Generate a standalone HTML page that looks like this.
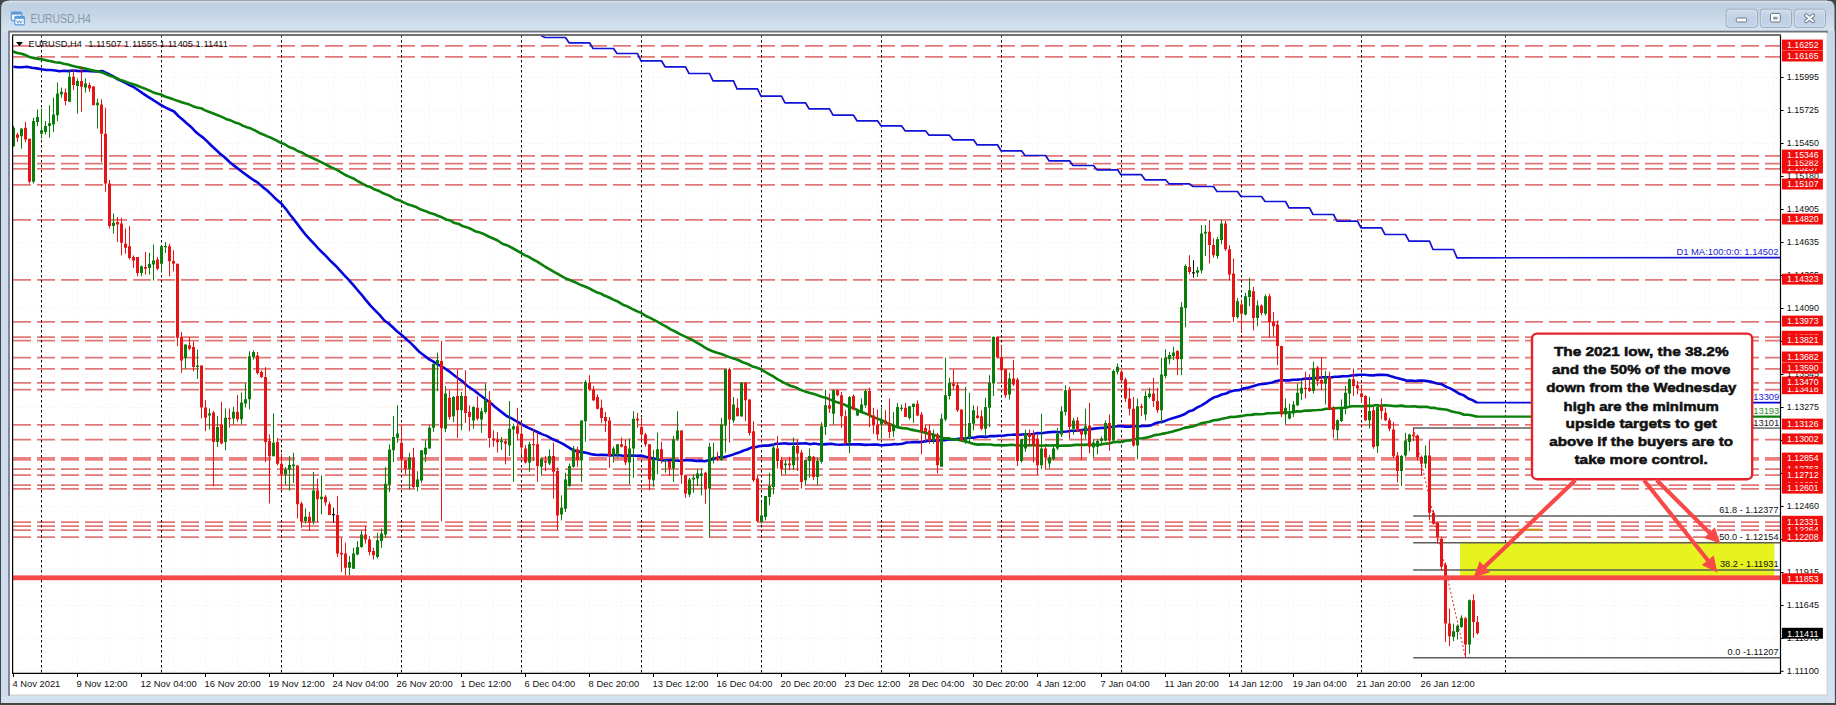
<!DOCTYPE html>
<html><head><meta charset="utf-8"><title>EURUSD,H4</title>
<style>html,body{margin:0;padding:0;background:#fff}body{width:1836px;height:705px;overflow:hidden;position:relative;font-family:"Liberation Sans",sans-serif}</style>
</head><body>
<svg width="1836" height="705" viewBox="0 0 1836 705" style="position:absolute;left:0;top:0;display:block">
<defs>
<linearGradient id="tb" gradientUnits="userSpaceOnUse" x1="0" y1="0.8" x2="0" y2="31">
<stop offset="0" stop-color="#d9e2eb"/><stop offset="0.045" stop-color="#d3dde8"/><stop offset="0.08" stop-color="#bfd0e1"/><stop offset="0.4" stop-color="#c4d4e5"/><stop offset="0.93" stop-color="#d4e2f0"/><stop offset="1" stop-color="#d9e3ee"/>
</linearGradient>
<linearGradient id="btn" x1="0" y1="0" x2="0" y2="1">
<stop offset="0" stop-color="#cfdcea"/><stop offset="0.5" stop-color="#c0d0e4"/><stop offset="1" stop-color="#c6d6ea"/>
</linearGradient>
<linearGradient id="rs" x1="0" y1="0" x2="0" y2="1"><stop offset="0" stop-color="#c8d8ea"/><stop offset="1" stop-color="#d5e2f0"/></linearGradient>
<clipPath id="cc"><rect x="13" y="35" width="1767" height="638"/></clipPath>
</defs>
<rect x="0" y="0" width="1836" height="705" fill="#454545"/>
<rect x="9" y="0" width="1818" height="2" fill="#868e98"/>
<path d="M1.1,702.8 L1.1,8 Q1.1,0.8 8,0.8 L1828,0.8 Q1834.5,0.8 1834.5,8 L1834.5,702.8 Z" fill="url(#tb)"/>
<rect x="1.1" y="31" width="1833.4" height="671.8" fill="#cddcef"/>
<rect x="1.1" y="695.5" width="1833.4" height="7.3" fill="#d3e0ef"/>
<rect x="1827.5" y="31" width="7" height="671.8" fill="url(#rs)"/>
<rect x="8.2" y="30.7" width="1819.6" height="665.1" fill="#70747a"/>
<rect x="9.9" y="32.7" width="1817.9" height="663.1" fill="#e8eaec"/>
<rect x="9.9" y="32.7" width="1816" height="661.2" fill="#ffffff"/>
<g>
<rect x="11.3" y="12" width="10.5" height="8.6" rx="1.4" fill="#f4f8fc" stroke="#5a9ada" stroke-width="1.15"/>
<rect x="11.3" y="12" width="10.5" height="2.6" fill="#5a9ada"/>
<rect x="14.8" y="16.4" width="9.6" height="8.4" rx="1.4" fill="#f4f8fc" stroke="#5a9ada" stroke-width="1.15"/>
<rect x="14.8" y="16.4" width="9.6" height="2.4" fill="#5a9ada"/>
<path d="M16.6,20.6 l1.5,2.6 l1.3,-2.6 l1.4,2.6 l1.4,-2.6" fill="none" stroke="#4d8fd6" stroke-width="0.9"/>
</g>
<text x="30.6" y="23.4" font-family="Liberation Sans, sans-serif" font-size="12.2" fill="#8697a8" textLength="60.2" lengthAdjust="spacingAndGlyphs">EURUSD,H4</text>
<rect x="1726.2" y="9.2" width="31.2" height="18.1" rx="3.2" fill="url(#btn)" stroke="#98a8bb" stroke-width="1"/>
<rect x="1727.2" y="10.2" width="29.2" height="16.1" rx="2.4" fill="none" stroke="#dde7f2" stroke-width="0.8" opacity="0.8"/>
<rect x="1760.3" y="9.2" width="31.2" height="18.1" rx="3.2" fill="url(#btn)" stroke="#98a8bb" stroke-width="1"/>
<rect x="1761.3" y="10.2" width="29.2" height="16.1" rx="2.4" fill="none" stroke="#dde7f2" stroke-width="0.8" opacity="0.8"/>
<rect x="1794.3" y="9.2" width="31.2" height="18.1" rx="3.2" fill="url(#btn)" stroke="#98a8bb" stroke-width="1"/>
<rect x="1795.3" y="10.2" width="29.2" height="16.1" rx="2.4" fill="none" stroke="#dde7f2" stroke-width="0.8" opacity="0.8"/>
<rect x="1736.3" y="18" width="10.4" height="4" rx="1.2" fill="#fbfcfd" stroke="#6b7785" stroke-width="1"/>
<rect x="1770.5" y="13.4" width="9.8" height="8.6" rx="1.2" fill="#fbfcfd" stroke="#6b7785" stroke-width="1"/>
<rect x="1773.2" y="16.8" width="4.4" height="2.6" fill="#8a949f"/>
<path d="M1806.2,15.4 L1813,21.2 M1813,15.4 L1806.2,21.2" stroke="#6b7785" stroke-width="4" stroke-linecap="round"/>
<path d="M1806.2,15.4 L1813,21.2 M1813,15.4 L1806.2,21.2" stroke="#fbfcfd" stroke-width="2.1" stroke-linecap="round"/>
<g clip-path="url(#cc)">
<path d="M45.5,35V673 M77.5,35V673 M109.5,35V673 M141.5,35V673 M173.5,35V673 M205.5,35V673 M237.5,35V673 M269.5,35V673 M301.5,35V673 M333.5,35V673 M365.5,35V673 M397.5,35V673 M429.5,35V673 M461.5,35V673 M493.5,35V673 M525.5,35V673 M557.5,35V673 M589.5,35V673 M621.5,35V673 M653.5,35V673 M685.5,35V673 M717.5,35V673 M749.5,35V673 M781.5,35V673 M813.5,35V673 M845.5,35V673 M877.5,35V673 M909.5,35V673 M941.5,35V673 M973.5,35V673 M1005.5,35V673 M1037.5,35V673 M1069.5,35V673 M1101.5,35V673 M1133.5,35V673 M1165.5,35V673 M1197.5,35V673 M1229.5,35V673 M1261.5,35V673 M1293.5,35V673 M1325.5,35V673 M1357.5,35V673 M1389.5,35V673 M1421.5,35V673 M1453.5,35V673 M1485.5,35V673 M1517.5,35V673 M1549.5,35V673 M1581.5,35V673 M1613.5,35V673 M1645.5,35V673 M1677.5,35V673 M1709.5,35V673 M1741.5,35V673 M1773.5,35V673 M13,77.5H1780 M13,110.5H1780 M13,143.5H1780 M13,176.5H1780 M13,209.5H1780 M13,242.5H1780 M13,275.5H1780 M13,308.5H1780 M13,341.5H1780 M13,374.5H1780 M13,407.5H1780 M13,440.5H1780 M13,473.5H1780 M13,506.5H1780 M13,539.5H1780 M13,572.5H1780 M13,605.5H1780 M13,638.5H1780 M13,671.5H1780" stroke="#eee2dc" stroke-width="1" stroke-dasharray="2 2.6" fill="none" opacity="0.42"/>
<path d="M13,45.8H1780 M13,56.8H1780 M13,155.8H1780 M13,163.6H1780 M13,168.8H1780 M13,184.8H1780 M13,219.8H1780 M13,279.9H1780 M13,321.8H1780 M13,337.0H1780 M13,340.7H1780 M13,357.7H1780 M13,368.8H1780 M13,382.8H1780 M13,389.5H1780 M13,424.8H1780 M13,439.7H1780 M13,469.1H1780 M13,475.0H1780 M13,485.1H1780 M13,488.9H1780 M13,522.0H1780 M13,526.0H1780 M13,530.0H1780 M13,537.0H1780" stroke="#e27878" stroke-width="1.75" stroke-dasharray="18 6" fill="none"/>
<path d="M13,458.8H1780" stroke="#ec8080" stroke-width="3.8" stroke-dasharray="18 6" fill="none"/>
<path d="M41.5,35V673 M161.5,35V673 M281.5,35V673 M401.5,35V673 M521.5,35V673 M641.5,35V673 M761.5,35V673 M881.5,35V673 M1001.5,35V673 M1121.5,35V673 M1241.5,35V673 M1361.5,35V673 M1505.5,35V673" stroke="#000" stroke-width="0.95" stroke-dasharray="2.5 2.5" fill="none"/>
<rect x="1460" y="542" width="1314.5" height="0" fill="none"/>
<rect x="1460" y="541.8" width="314.4" height="35" fill="#e6f31f"/>
<path d="M1413.2,428.0H1780" stroke="#5c5c5c" stroke-width="1.4" fill="none"/>
<path d="M1413.2,516.0H1780" stroke="#5c5c5c" stroke-width="1.4" fill="none"/>
<path d="M1413.2,542.7H1780" stroke="#5c5c5c" stroke-width="1.4" fill="none"/>
<path d="M1413.2,570.0H1780" stroke="#5c5c5c" stroke-width="1.4" fill="none"/>
<path d="M1413.2,657.7H1780" stroke="#5c5c5c" stroke-width="1.4" fill="none"/>
<path d="M1413.5,428 L1465.5,657.5" stroke="#e82020" stroke-width="1" stroke-dasharray="2 2.2" fill="none"/>
<path d="M1518,529.6H1541" stroke="#d39a10" stroke-width="1.8"/>
<path d="M541.0,35.5 L545.0,37.5 L565.5,37.5 L569.0,42.8 L589.5,42.8 L593.0,48.5 L613.5,48.5 L617.0,53.5 L637.5,53.5 L641.0,60.8 L661.5,60.8 L665.0,66.8 L685.5,66.8 L689.0,73.5 L709.5,73.5 L713.0,80.8 L733.5,80.8 L737.0,88.8 L757.5,88.8 L761.0,96.2 L781.5,96.2 L785.0,102.8 L805.5,102.8 L809.0,108.8 L829.5,108.8 L833.0,115.2 L853.5,115.2 L857.0,120.8 L877.5,120.8 L881.0,125.8 L901.5,125.8 L905.0,130.8 L925.5,130.8 L929.0,135.2 L949.5,135.2 L953.0,139.8 L973.5,139.8 L977.0,144.8 L997.5,144.8 L1001.0,150.8 L1021.5,150.8 L1025.0,155.5 L1045.5,155.5 L1049.0,160.8 L1069.5,160.8 L1073.0,165.5 L1093.5,165.5 L1097.0,169.8 L1117.5,169.8 L1121.0,174.7 L1141.5,174.7 L1145.0,179.8 L1165.5,179.8 L1169.0,183.8 L1189.5,183.8 L1193.0,186.5 L1213.5,186.5 L1217.0,191.5 L1237.5,191.5 L1241.0,196.5 L1261.5,196.5 L1265.0,201.5 L1285.5,201.5 L1289.0,207.8 L1309.5,207.8 L1313.0,214.5 L1333.5,214.5 L1337.0,221.2 L1357.5,221.2 L1361.0,227.8 L1381.5,227.8 L1385.0,234.5 L1405.5,234.5 L1409.0,241.2 L1429.5,241.2 L1433.0,249.5 L1453.5,249.5 L1457.0,257.8 L1780.0,257.6" stroke="#1212d6" stroke-width="1.7" fill="none" stroke-linejoin="round"/>
<path d="M1476.5,402.7H1780" stroke="#0606dc" stroke-width="1.8"/>
<path d="M1476.5,416.7H1780" stroke="#0a7f0a" stroke-width="2.2"/>
<path d="M13.4,66.7 L17.9,67.3 L22.3,67.2 L26.8,66.8 L31.8,67.7 L36.8,68.4 L41.8,69.3 L46.3,70.0 L50.7,70.0 L55.2,70.5 L59.6,71.2 L64.0,70.8 L68.4,71.1 L72.8,70.5 L77.2,70.9 L81.6,71.1 L86.0,70.7 L90.4,71.3 L96.2,71.5 L102.1,71.0 L107.9,73.6 L113.8,76.7 L117.8,79.3 L121.8,81.0 L125.9,83.0 L129.9,85.3 L133.9,87.2 L138.4,90.3 L142.8,93.4 L147.3,96.4 L151.8,99.1 L156.2,102.0 L160.7,104.9 L165.2,107.4 L169.6,109.5 L174.1,111.5 L178.3,116.0 L182.5,119.5 L186.7,123.3 L190.8,126.7 L195.0,131.2 L199.2,134.8 L203.4,137.9 L207.6,141.8 L211.8,146.0 L215.9,149.7 L220.1,153.7 L224.3,157.0 L229.3,161.7 L234.4,165.9 L239.4,169.8 L244.0,173.2 L248.6,176.6 L253.2,179.8 L257.8,182.6 L262.5,186.9 L267.2,190.5 L271.8,194.9 L276.5,199.6 L281.2,203.4 L285.7,208.8 L290.1,214.7 L294.6,220.4 L300.3,227.9 L306.0,235.2 L310.1,239.6 L314.3,244.0 L318.4,248.6 L322.6,252.7 L326.8,256.9 L330.9,261.3 L335.1,265.2 L339.2,269.6 L344.2,275.2 L349.2,280.4 L353.4,285.1 L357.5,290.0 L361.7,294.8 L365.9,300.1 L370.5,305.6 L375.1,310.4 L379.8,315.2 L384.4,320.5 L388.6,323.5 L392.8,327.3 L396.9,331.3 L401.1,334.5 L405.8,338.7 L410.5,342.9 L415.1,347.5 L419.8,352.3 L424.5,355.8 L428.9,359.1 L433.4,361.7 L437.8,364.4 L442.3,366.9 L446.7,369.6 L450.7,372.5 L454.7,375.7 L458.8,378.8 L462.8,381.6 L466.8,385.5 L470.8,388.3 L474.8,391.0 L478.9,394.3 L482.9,397.3 L486.9,400.2 L490.9,403.3 L494.9,406.7 L499.0,410.0 L503.0,413.1 L507.0,416.2 L511.2,418.1 L515.4,420.6 L519.5,422.8 L523.7,425.5 L528.4,427.9 L533.1,430.0 L537.8,432.2 L542.5,434.4 L547.2,436.1 L553.0,439.3 L558.9,441.9 L563.4,444.1 L567.8,446.9 L572.3,449.7 L577.3,451.4 L582.3,452.1 L587.3,453.0 L592.3,454.4 L597.4,455.0 L601.8,454.8 L606.1,455.0 L610.4,455.4 L614.8,455.1 L619.1,455.3 L623.5,455.8 L627.9,455.6 L632.2,455.6 L636.5,455.8 L640.9,455.5 L645.5,456.8 L650.1,457.9 L654.7,458.8 L659.3,459.7 L663.4,460.5 L667.5,460.3 L671.6,460.1 L675.7,460.5 L679.8,460.8 L684.0,460.2 L688.1,460.2 L692.2,460.4 L696.3,461.0 L700.4,460.6 L704.5,461.2 L709.5,459.9 L714.6,458.5 L718.9,457.4 L723.2,457.2 L727.5,456.2 L731.8,455.1 L735.8,453.4 L739.8,452.2 L743.8,450.5 L747.8,449.2 L751.8,447.4 L755.9,447.1 L759.9,446.0 L764.0,445.6 L768.1,445.6 L772.2,444.9 L776.2,443.8 L780.3,443.7 L784.5,443.3 L788.8,443.9 L793.0,443.8 L797.3,443.6 L801.5,443.5 L805.8,443.3 L810.0,444.2 L814.3,443.5 L818.5,444.2 L822.8,444.4 L827.0,444.1 L831.3,443.8 L835.5,444.5 L839.7,444.7 L843.9,444.5 L848.1,444.4 L852.3,444.4 L856.5,444.4 L860.6,444.4 L864.8,444.9 L869.0,444.7 L873.2,444.6 L877.4,444.6 L881.6,445.2 L885.8,444.9 L890.0,444.7 L894.1,444.1 L898.3,444.2 L902.5,443.8 L906.7,442.5 L910.9,442.3 L915.0,442.0 L919.2,442.1 L923.4,441.6 L927.6,440.9 L931.8,440.5 L936.0,440.6 L940.1,440.4 L944.3,440.2 L948.5,439.4 L952.7,439.5 L956.9,439.0 L961.1,438.5 L965.3,438.6 L969.5,437.6 L973.7,437.8 L977.8,436.8 L982.0,436.6 L986.2,436.9 L990.4,436.0 L994.6,436.1 L998.9,435.7 L1003.2,435.7 L1007.5,435.0 L1011.8,434.8 L1016.1,434.5 L1020.4,434.7 L1024.7,434.2 L1029.0,434.3 L1033.3,434.0 L1037.6,433.1 L1041.9,433.2 L1046.2,432.5 L1050.4,432.1 L1054.6,431.8 L1058.8,432.2 L1062.9,431.8 L1067.1,431.5 L1071.3,430.7 L1075.5,430.6 L1079.7,430.4 L1083.9,429.7 L1088.0,429.5 L1092.2,428.9 L1096.4,428.4 L1100.6,428.0 L1104.8,427.9 L1109.0,427.0 L1113.2,426.7 L1117.4,426.3 L1121.6,426.1 L1125.8,426.6 L1130.0,426.6 L1134.1,425.9 L1138.3,426.5 L1142.5,425.9 L1146.7,426.0 L1150.9,425.4 L1155.1,423.3 L1159.2,422.2 L1163.4,421.6 L1167.6,419.9 L1171.8,418.4 L1175.9,417.2 L1180.1,416.0 L1184.3,414.3 L1188.5,411.6 L1192.7,410.3 L1196.9,407.7 L1201.1,405.7 L1205.2,403.2 L1209.4,400.1 L1213.6,397.6 L1217.8,396.3 L1221.9,394.5 L1226.1,393.5 L1230.3,391.5 L1234.5,390.4 L1238.7,390.3 L1242.9,388.6 L1247.1,387.9 L1251.3,386.7 L1255.4,385.5 L1259.6,384.3 L1263.8,384.0 L1268.0,383.3 L1272.2,382.5 L1276.4,381.0 L1280.6,380.3 L1284.8,380.4 L1289.0,380.4 L1293.2,379.8 L1297.3,379.6 L1301.5,379.3 L1305.7,378.6 L1309.9,378.6 L1314.1,378.1 L1318.3,377.7 L1322.4,377.3 L1326.6,377.2 L1330.8,377.5 L1335.0,376.8 L1339.2,376.6 L1343.3,376.3 L1347.5,376.3 L1351.7,375.5 L1355.8,375.1 L1360.0,374.8 L1364.5,374.8 L1369.0,375.3 L1373.5,375.4 L1378.0,374.8 L1382.5,374.9 L1387.0,375.0 L1391.0,376.3 L1395.0,377.5 L1399.0,378.4 L1403.0,379.4 L1407.0,380.8 L1411.0,380.6 L1415.0,381.0 L1419.0,380.6 L1423.0,380.6 L1427.0,381.1 L1432.0,381.9 L1437.0,383.5 L1442.0,384.3 L1446.4,386.9 L1450.7,388.6 L1455.1,391.2 L1459.5,393.8 L1463.8,395.4 L1468.2,398.5 L1472.5,400.1 L1476.9,402.7" stroke="#0606dc" stroke-width="2.6" fill="none" stroke-linejoin="round"/>
<path d="M13.0,51.5 L17.3,53.0 L21.6,53.7 L25.9,55.2 L30.2,57.3 L34.4,58.1 L38.6,58.9 L42.8,59.4 L46.9,60.5 L51.1,61.3 L55.3,62.2 L59.5,62.6 L63.7,63.7 L67.9,64.6 L72.0,65.7 L76.2,66.8 L80.4,67.6 L85.1,68.5 L89.8,69.7 L94.5,70.8 L99.2,71.8 L103.9,73.1 L108.0,75.0 L112.0,76.4 L116.1,78.0 L120.2,79.9 L124.2,81.1 L128.3,82.7 L132.4,83.9 L136.4,85.2 L140.5,87.0 L144.5,88.4 L148.6,90.2 L152.7,92.2 L156.7,93.4 L160.8,94.5 L164.8,96.5 L168.8,97.8 L172.8,99.1 L176.8,100.6 L180.9,101.9 L184.9,103.3 L188.9,104.3 L192.9,106.2 L196.9,107.5 L200.9,108.2 L205.1,110.4 L209.3,112.0 L213.4,113.5 L217.6,115.2 L221.8,116.9 L226.0,118.9 L230.2,120.2 L234.4,122.2 L238.6,123.4 L242.7,125.6 L246.9,127.3 L251.1,128.6 L255.3,130.7 L259.5,133.0 L263.8,134.8 L268.0,136.6 L272.2,138.3 L276.4,140.4 L280.7,142.8 L284.9,144.3 L289.1,147.0 L293.3,148.4 L297.6,151.0 L301.8,152.4 L306.0,155.0 L310.9,157.2 L315.8,159.5 L320.6,161.9 L325.5,164.4 L329.6,166.5 L333.7,168.4 L337.8,170.4 L341.9,172.8 L346.0,175.3 L350.1,177.1 L354.2,178.8 L358.3,181.5 L362.4,183.6 L366.5,185.9 L370.7,187.1 L374.9,189.6 L379.0,190.9 L383.2,193.3 L387.4,194.9 L391.5,196.8 L395.7,199.3 L399.9,200.5 L404.1,202.6 L408.3,204.6 L412.5,205.7 L416.7,207.3 L420.9,209.6 L425.1,210.9 L429.3,212.8 L433.5,213.9 L437.7,215.8 L441.9,217.3 L446.1,219.5 L450.4,220.6 L454.6,223.1 L458.9,224.0 L463.1,226.3 L467.4,227.4 L471.6,229.3 L475.9,231.5 L480.1,232.6 L484.4,234.3 L488.6,236.5 L493.2,238.5 L497.7,240.5 L502.3,243.7 L506.8,245.2 L511.4,247.5 L515.9,250.0 L520.5,252.6 L524.7,255.1 L528.9,256.9 L533.1,259.5 L537.3,261.6 L541.5,264.3 L545.6,267.0 L549.8,269.3 L554.0,271.8 L558.2,274.1 L562.4,276.6 L566.6,278.8 L570.9,280.5 L575.1,282.2 L579.4,284.4 L583.6,286.0 L587.9,287.7 L592.2,290.0 L596.4,292.2 L600.7,293.5 L604.9,295.8 L609.2,297.5 L613.8,299.9 L618.3,301.8 L622.9,304.7 L627.4,306.4 L632.0,308.9 L636.5,311.0 L641.1,312.9 L645.4,315.7 L649.6,317.6 L653.9,319.8 L658.2,322.1 L662.5,324.6 L666.7,326.8 L671.0,329.6 L675.2,331.5 L679.4,333.9 L683.6,335.9 L687.8,337.9 L691.8,339.6 L695.9,342.1 L699.9,344.3 L704.0,346.9 L708.0,349.3 L712.5,351.2 L717.0,352.8 L721.5,354.0 L726.1,355.9 L730.6,357.6 L735.1,358.9 L739.3,360.5 L743.5,362.6 L747.7,364.0 L751.8,366.2 L756.0,367.4 L760.2,368.9 L764.4,371.4 L768.6,373.8 L772.8,376.2 L776.9,378.9 L781.1,381.2 L785.3,383.4 L790.3,385.7 L795.4,387.2 L800.4,389.8 L804.9,391.4 L809.3,392.7 L813.8,393.9 L818.3,395.5 L822.7,397.1 L827.2,398.2 L831.4,400.1 L835.6,401.7 L839.8,402.9 L843.9,404.4 L848.1,406.5 L852.3,407.7 L856.5,409.6 L860.7,411.8 L864.8,413.3 L869.0,414.9 L873.2,417.3 L877.4,418.6 L881.6,420.2 L885.8,422.7 L889.9,424.0 L894.1,426.1 L898.3,427.4 L902.5,428.1 L906.7,428.4 L910.8,429.6 L915.0,430.4 L919.2,431.3 L923.4,432.2 L927.6,433.6 L931.8,434.3 L935.9,435.6 L940.1,436.8 L944.3,438.4 L948.5,438.2 L952.7,439.5 L956.9,439.6 L961.1,440.6 L965.3,441.5 L969.5,442.6 L973.6,443.9 L977.8,444.6 L982.0,444.4 L986.3,444.5 L990.5,444.5 L994.8,445.2 L999.0,445.1 L1003.3,445.4 L1007.5,445.3 L1011.8,444.7 L1016.0,445.3 L1020.3,445.5 L1024.6,445.5 L1028.9,445.3 L1033.3,445.2 L1037.6,445.4 L1041.9,445.7 L1046.2,445.3 L1050.4,445.5 L1054.6,445.3 L1058.8,445.7 L1062.9,445.5 L1067.1,445.6 L1071.3,445.4 L1075.5,444.9 L1079.7,444.7 L1083.9,444.9 L1088.0,444.6 L1092.2,444.7 L1096.4,444.9 L1100.6,444.6 L1104.8,443.7 L1109.0,443.4 L1113.2,442.2 L1117.3,441.9 L1121.5,442.0 L1125.7,440.7 L1129.9,440.4 L1134.1,439.3 L1138.3,438.5 L1142.5,438.3 L1146.7,437.6 L1150.8,436.4 L1155.0,435.1 L1159.2,434.5 L1163.4,433.6 L1167.6,432.8 L1171.8,431.7 L1176.0,430.4 L1180.1,429.4 L1184.3,427.9 L1188.5,427.1 L1192.7,426.4 L1196.9,425.1 L1201.0,423.4 L1205.2,422.6 L1209.4,421.7 L1213.6,420.2 L1217.8,419.9 L1221.9,418.7 L1226.1,418.0 L1230.3,416.9 L1234.5,417.0 L1238.7,416.4 L1242.9,415.8 L1247.0,415.0 L1251.2,414.9 L1255.4,414.1 L1259.6,414.2 L1263.8,414.0 L1267.8,413.2 L1271.9,413.3 L1276.0,413.0 L1280.0,412.7 L1284.2,412.6 L1288.4,412.5 L1292.6,412.0 L1296.8,411.4 L1301.0,411.5 L1305.2,410.6 L1309.4,410.6 L1313.6,410.2 L1317.8,410.0 L1322.0,409.7 L1326.2,408.8 L1330.4,408.8 L1334.7,408.2 L1338.9,408.0 L1343.1,407.9 L1347.3,407.3 L1351.6,406.3 L1355.8,406.3 L1360.0,406.2 L1364.0,406.2 L1368.0,405.9 L1372.0,405.9 L1376.0,405.0 L1380.0,405.7 L1384.0,405.4 L1388.3,405.5 L1392.6,405.9 L1396.9,406.1 L1401.2,405.6 L1405.5,406.4 L1409.8,406.5 L1414.1,406.2 L1418.4,406.9 L1422.7,406.9 L1427.0,406.7 L1431.0,407.9 L1435.0,407.9 L1439.0,408.9 L1443.0,409.3 L1447.0,409.8 L1451.2,411.2 L1455.5,412.2 L1459.8,413.0 L1464.0,414.8 L1468.3,414.8 L1472.6,415.5 L1476.9,416.7" stroke="#0a7f0a" stroke-width="2.6" fill="none" stroke-linejoin="round"/>
<path d="M13.5,126.1V147.0 M21.5,128.6V148.7 M33.5,117.8V183.4 M37.5,109.4V126.1 M41.5,108.5V138.7 M45.5,121.1V134.5 M49.5,105.2V137.8 M53.5,97.7V132.0 M57.5,82.6V121.1 M61.5,87.6V97.7 M69.5,69.2V101.8 M77.5,78.4V113.6 M85.5,78.4V92.6 M97.5,98.5V128.6 M113.5,213.5V233.6 M141.5,265.4V276.3 M149.5,252.9V274.6 M153.5,244.5V280.5 M161.5,246.2V271.3 M165.5,242.0V252.9 M185.5,344.5V368.8 M197.5,349.5V378.8 M209.5,408.5V429.4 M217.5,416.0V447.0 M225.5,408.5V450.3 M233.5,406.8V424.4 M241.5,392.6V424.4 M245.5,383.3V407.6 M249.5,351.2V409.3 M253.5,350.3V359.6 M273.5,413.5V456.2 M285.5,467.0V484.6 M289.5,456.2V490.5 M293.5,452.8V482.9 M305.5,508.4V523.5 M313.5,472.1V524.3 M321.5,475.4V514.3 M349.5,556.1V575.4 M353.5,547.8V568.7 M357.5,541.1V555.3 M361.5,530.2V547.8 M377.5,532.7V558.6 M381.5,528.5V547.8 M385.5,467.0V537.7 M389.5,444.4V492.2 M393.5,416.0V462.0 M397.5,405.1V442.8 M409.5,452.8V489.6 M417.5,471.2V491.3 M421.5,450.3V482.9 M425.5,440.3V462.0 M429.5,425.2V448.6 M433.5,363.7V431.9 M437.5,352.6V391.1 M445.5,386.1V432.1 M453.5,396.1V422.1 M461.5,391.9V430.4 M473.5,406.2V428.8 M481.5,407.8V432.9 M485.5,383.6V413.7 M501.5,437.1V450.1 M509.5,401.1V455.9 M513.5,423.7V481.9 M529.5,441.7V471.8 M541.5,457.6V475.2 M549.5,449.3V465.2 M561.5,495.3V520.4 M565.5,472.7V512.0 M569.5,463.5V486.9 M573.5,445.9V467.7 M581.5,420.4V481.9 M585.5,380.2V441.7 M613.5,446.7V462.6 M617.5,444.2V457.6 M629.5,438.4V484.4 M633.5,411.2V477.7 M653.5,450.1V486.9 M657.5,432.5V474.4 M665.5,460.1V472.7 M673.5,435.9V481.9 M677.5,411.2V440.9 M689.5,477.7V497.0 M693.5,474.4V492.8 M697.5,469.3V486.1 M701.5,468.5V495.3 M709.5,442.6V537.1 M713.5,442.6V463.5 M721.5,417.9V461.0 M725.5,369.3V452.6 M733.5,397.0V422.9 M741.5,381.9V417.0 M761.5,502.0V523.7 M765.5,496.1V520.4 M769.5,472.7V505.3 M773.5,444.2V494.4 M785.5,460.1V474.4 M793.5,437.5V470.2 M805.5,460.1V485.2 M809.5,448.4V477.7 M817.5,457.6V485.2 M821.5,422.1V463.5 M825.5,389.4V435.0 M833.5,389.4V424.6 M849.5,396.1V453.4 M857.5,408.7V416.2 M861.5,398.6V412.0 M865.5,389.4V407.8 M881.5,407.8V438.8 M893.5,412.0V437.1 M897.5,402.8V427.1 M901.5,404.5V411.2 M909.5,406.2V419.6 M913.5,403.7V422.9 M933.5,429.6V443.8 M941.5,413.7V466.8 M945.5,357.6V421.2 M949.5,377.7V399.5 M965.5,386.9V443.8 M969.5,392.8V442.2 M973.5,405.3V430.4 M985.5,397.8V437.1 M989.5,375.2V427.1 M993.5,336.7V396.1 M1009.5,372.7V399.5 M1021.5,439.2V462.6 M1025.5,429.6V451.8 M1041.5,413.7V469.3 M1049.5,455.1V468.5 M1053.5,446.7V460.1 M1057.5,427.9V450.1 M1061.5,406.2V437.1 M1065.5,385.2V415.4 M1073.5,417.9V434.6 M1085.5,408.7V438.8 M1093.5,439.2V457.6 M1097.5,439.2V454.3 M1101.5,436.7V444.2 M1105.5,420.4V441.3 M1113.5,369.3V442.2 M1117.5,363.5V374.4 M1137.5,398.6V459.3 M1145.5,391.1V420.4 M1149.5,387.8V398.6 M1161.5,357.6V423.7 M1165.5,349.3V378.5 M1169.5,351.8V364.3 M1173.5,346.7V360.1 M1181.5,302.0V375.2 M1185.5,264.4V327.2 M1197.5,266.9V276.9 M1201.5,225.0V273.6 M1205.5,225.0V256.0 M1217.5,236.8V258.5 M1221.5,220.0V244.3 M1237.5,297.9V318.8 M1245.5,292.8V315.4 M1249.5,277.8V306.2 M1257.5,300.4V326.3 M1265.5,294.5V315.4 M1285.5,398.5V424.5 M1289.5,403.6V419.5 M1293.5,401.1V417.0 M1297.5,383.5V406.1 M1301.5,380.1V400.2 M1313.5,361.7V393.5 M1325.5,370.9V404.4 M1337.5,419.5V439.6 M1341.5,399.4V422.0 M1345.5,386.0V414.4 M1349.5,378.5V407.8 M1369.5,396.9V428.7 M1377.5,406.1V452.9 M1401.5,455.0V486.0 M1405.5,432.9V457.1 M1409.5,433.7V451.3 M1425.5,445.4V468.4 M1453.5,623.6V641.2 M1457.5,624.5V639.5 M1461.5,615.3V627.8 M1469.5,599.4V653.8" stroke="#0b7d0b" stroke-width="1" fill="none"/>
<path d="M17.5,132.8V142.0 M25.5,121.9V142.0 M29.5,138.7V183.4 M65.5,88.5V105.2 M73.5,70.0V90.1 M81.5,66.7V111.9 M89.5,82.6V91.8 M93.5,86.4V105.2 M101.5,99.3V162.1 M105.5,107.7V191.8 M109.5,180.0V228.6 M117.5,216.9V242.0 M121.5,217.7V255.4 M125.5,228.6V253.7 M129.5,226.1V259.6 M133.5,255.4V267.9 M137.5,257.0V276.3 M145.5,252.0V274.6 M157.5,257.0V270.4 M169.5,243.7V276.3 M173.5,250.3V271.3 M177.5,263.7V346.2 M181.5,331.9V372.9 M189.5,337.0V350.3 M193.5,341.1V371.3 M201.5,365.4V418.5 M205.5,400.1V431.1 M213.5,411.0V486.3 M221.5,401.8V444.4 M229.5,408.5V427.7 M237.5,395.1V421.8 M257.5,352.0V374.6 M261.5,370.4V378.0 M265.5,367.1V462.0 M269.5,434.4V503.4 M277.5,437.8V465.4 M281.5,453.7V489.6 M297.5,465.4V518.5 M301.5,501.7V527.7 M309.5,511.8V531.0 M317.5,478.8V521.8 M325.5,495.0V505.9 M329.5,501.7V515.1 M337.5,495.9V557.0 M341.5,537.7V572.0 M345.5,542.7V575.4 M365.5,526.0V543.6 M369.5,536.0V555.3 M373.5,547.8V559.5 M401.5,425.2V468.7 M405.5,460.3V474.6 M413.5,447.8V488.8 M441.5,340.9V521.2 M449.5,390.3V419.6 M457.5,369.3V438.0 M465.5,370.2V422.9 M469.5,405.3V431.3 M477.5,396.1V420.4 M489.5,391.1V447.6 M493.5,430.4V446.7 M497.5,432.1V452.6 M505.5,438.8V464.3 M517.5,407.8V440.5 M521.5,422.1V455.1 M525.5,445.1V463.5 M533.5,428.8V461.0 M537.5,432.1V481.9 M545.5,455.9V471.0 M553.5,442.6V498.6 M557.5,467.7V529.6 M577.5,446.7V466.8 M589.5,375.2V391.1 M593.5,386.1V401.1 M597.5,394.4V409.5 M601.5,399.5V422.9 M605.5,412.0V432.1 M609.5,417.0V467.7 M621.5,437.5V447.6 M625.5,440.0V465.2 M637.5,412.9V427.9 M641.5,417.9V440.0 M645.5,432.9V446.7 M649.5,444.2V490.3 M661.5,441.7V463.5 M669.5,461.0V476.0 M681.5,430.4V483.6 M685.5,475.2V497.8 M705.5,471.8V503.7 M717.5,451.8V461.0 M729.5,367.7V442.6 M737.5,398.6V416.2 M745.5,381.9V421.2 M749.5,399.5V435.5 M753.5,421.2V481.9 M757.5,475.2V522.1 M777.5,435.9V468.5 M781.5,456.8V475.2 M789.5,456.8V470.2 M797.5,440.0V471.0 M801.5,450.1V488.6 M813.5,455.9V480.2 M829.5,393.6V412.9 M837.5,389.4V396.1 M841.5,391.9V427.9 M845.5,410.3V444.2 M853.5,394.4V410.3 M869.5,387.8V427.1 M873.5,407.8V433.8 M877.5,409.5V439.6 M885.5,410.3V424.6 M889.5,398.6V438.0 M905.5,402.8V417.0 M917.5,400.3V416.2 M921.5,412.0V454.3 M925.5,424.6V441.3 M929.5,424.6V443.8 M937.5,432.9V473.5 M953.5,369.3V389.4 M957.5,382.7V412.0 M961.5,409.5V441.3 M977.5,406.2V418.7 M981.5,410.3V430.4 M997.5,336.7V358.5 M1001.5,345.9V381.1 M1005.5,369.3V397.8 M1013.5,360.1V386.1 M1017.5,377.7V466.0 M1029.5,429.6V446.7 M1033.5,430.4V462.6 M1037.5,434.6V475.2 M1045.5,446.7V469.3 M1069.5,386.9V438.8 M1077.5,417.0V432.1 M1081.5,428.8V460.1 M1089.5,402.8V453.4 M1109.5,414.5V450.9 M1121.5,370.2V381.1 M1125.5,377.7V402.0 M1129.5,387.8V415.4 M1133.5,397.0V446.7 M1141.5,403.7V416.2 M1153.5,377.7V407.0 M1157.5,387.8V412.9 M1177.5,350.1V375.2 M1189.5,255.2V274.4 M1209.5,220.0V263.5 M1213.5,238.4V257.7 M1225.5,220.9V251.0 M1229.5,245.1V280.3 M1233.5,258.5V322.1 M1241.5,299.5V333.0 M1253.5,287.0V330.5 M1261.5,304.6V315.4 M1269.5,293.7V337.5 M1273.5,312.1V336.7 M1277.5,320.5V365.2 M1281.5,345.9V417.0 M1305.5,371.8V398.5 M1309.5,374.3V391.8 M1317.5,365.9V386.0 M1321.5,357.5V390.2 M1329.5,371.8V410.3 M1333.5,406.1V437.9 M1353.5,368.4V396.0 M1357.5,381.0V394.4 M1361.5,386.0V402.7 M1365.5,395.2V421.1 M1373.5,406.9V448.8 M1381.5,398.5V419.5 M1385.5,407.8V421.1 M1389.5,417.8V431.2 M1393.5,422.0V458.0 M1397.5,452.1V482.6 M1413.5,427.8V441.2 M1417.5,434.5V460.5 M1421.5,455.5V475.9 M1429.5,440.4V520.3 M1433.5,510.3V524.5 M1437.5,522.0V543.7 M1441.5,537.0V570.9 M1445.5,562.5V642.0 M1449.5,608.6V646.2 M1465.5,616.9V657.9 M1473.5,594.3V637.9 M1477.5,616.1V634.5" stroke="#e61414" stroke-width="1" fill="none"/>
<path d="M333.5,507.6V522.6 M1193.5,260.2V277.8" stroke="#111" stroke-width="1" fill="none"/>
<path d="M12.0,127.8h3V146.2h-3Z M20.0,128.6h3V136.2h-3Z M32.0,121.1h3V181.7h-3Z M36.0,116.9h3V121.9h-3Z M40.0,130.3h3V133.7h-3Z M44.0,126.1h3V132.0h-3Z M48.0,123.3h3V126.1h-3Z M52.0,114.4h3V124.4h-3Z M56.0,93.5h3V115.2h-3Z M60.0,91.8h3V94.3h-3Z M68.0,76.7h3V101.8h-3Z M76.0,80.9h3V85.9h-3Z M84.0,83.4h3V87.6h-3Z M96.0,102.7h3V105.2h-3Z M112.0,222.7h3V226.1h-3Z M140.0,266.3h3V272.9h-3Z M148.0,263.7h3V267.9h-3Z M152.0,260.4h3V264.6h-3Z M160.0,246.2h3V263.7h-3Z M164.0,246.1h3V247.3h-3Z M184.0,344.5h3V357.9h-3Z M196.0,365.4h3V367.1h-3Z M208.0,413.5h3V415.5h-3Z M216.0,426.9h3V441.9h-3Z M224.0,417.7h3V441.9h-3Z M232.0,411.8h3V418.5h-3Z M240.0,402.6h3V419.3h-3Z M244.0,399.3h3V403.4h-3Z M248.0,356.2h3V399.3h-3Z M252.0,352.0h3V357.0h-3Z M272.0,442.8h3V456.2h-3Z M284.0,469.6h3V474.6h-3Z M288.0,465.0h3V469.6h-3Z M292.0,464.5h3V466.2h-3Z M304.0,516.8h3V521.0h-3Z M312.0,490.5h3V521.8h-3Z M320.0,496.7h3V499.2h-3Z M348.0,562.0h3V567.8h-3Z M352.0,553.6h3V568.7h-3Z M356.0,546.9h3V554.4h-3Z M360.0,534.4h3V546.9h-3Z M376.0,540.2h3V557.0h-3Z M380.0,533.5h3V541.1h-3Z M384.0,483.8h3V534.4h-3Z M388.0,449.5h3V484.6h-3Z M392.0,436.9h3V450.3h-3Z M396.0,433.6h3V437.8h-3Z M408.0,457.8h3V468.7h-3Z M416.0,479.6h3V487.1h-3Z M420.0,450.3h3V480.4h-3Z M424.0,447.8h3V454.5h-3Z M428.0,427.7h3V448.6h-3Z M432.0,363.7h3V427.7h-3Z M436.0,360.1h3V363.5h-3Z M444.0,393.6h3V428.8h-3Z M452.0,397.0h3V416.2h-3Z M460.0,396.1h3V410.3h-3Z M472.0,407.0h3V420.4h-3Z M480.0,411.2h3V419.6h-3Z M484.0,400.3h3V412.0h-3Z M500.0,440.5h3V442.2h-3Z M508.0,428.8h3V445.5h-3Z M512.0,426.3h3V429.6h-3Z M528.0,444.2h3V462.6h-3Z M540.0,458.5h3V466.8h-3Z M548.0,455.9h3V463.5h-3Z M560.0,507.8h3V514.5h-3Z M564.0,479.4h3V508.7h-3Z M568.0,466.0h3V486.1h-3Z M572.0,448.4h3V466.8h-3Z M580.0,420.4h3V460.1h-3Z M584.0,381.9h3V421.2h-3Z M612.0,448.4h3V455.1h-3Z M616.0,444.2h3V455.1h-3Z M628.0,448.4h3V462.6h-3Z M632.0,418.7h3V448.4h-3Z M652.0,459.3h3V480.2h-3Z M656.0,449.3h3V460.1h-3Z M664.0,459.9h3V461.1h-3Z M672.0,439.2h3V468.5h-3Z M676.0,430.4h3V439.2h-3Z M688.0,479.4h3V494.4h-3Z M692.0,477.7h3V479.4h-3Z M696.0,473.5h3V478.5h-3Z M700.0,473.5h3V476.0h-3Z M708.0,446.7h3V488.6h-3Z M712.0,456.8h3V458.5h-3Z M720.0,424.6h3V460.1h-3Z M724.0,369.3h3V425.4h-3Z M732.0,404.5h3V420.4h-3Z M740.0,382.7h3V416.2h-3Z M760.0,515.4h3V522.1h-3Z M764.0,496.1h3V517.0h-3Z M768.0,486.1h3V497.0h-3Z M772.0,447.6h3V486.9h-3Z M784.0,463.5h3V465.2h-3Z M792.0,445.9h3V465.2h-3Z M804.0,460.1h3V480.2h-3Z M808.0,455.9h3V461.0h-3Z M816.0,461.0h3V476.9h-3Z M820.0,426.3h3V461.8h-3Z M824.0,405.3h3V427.1h-3Z M832.0,390.3h3V413.7h-3Z M848.0,397.0h3V442.6h-3Z M856.0,410.3h3V415.4h-3Z M860.0,404.5h3V411.2h-3Z M864.0,391.1h3V405.3h-3Z M880.0,419.6h3V424.6h-3Z M892.0,425.4h3V431.3h-3Z M896.0,407.0h3V426.3h-3Z M900.0,407.7h3V408.9h-3Z M908.0,406.2h3V417.9h-3Z M912.0,403.7h3V407.0h-3Z M932.0,434.6h3V440.5h-3Z M940.0,418.7h3V466.8h-3Z M944.0,395.3h3V419.6h-3Z M948.0,382.7h3V396.1h-3Z M964.0,437.1h3V441.3h-3Z M968.0,422.9h3V438.0h-3Z M972.0,410.3h3V423.7h-3Z M984.0,407.0h3V428.8h-3Z M988.0,382.7h3V407.8h-3Z M992.0,336.7h3V383.6h-3Z M1008.0,378.5h3V394.4h-3Z M1020.0,439.2h3V461.0h-3Z M1024.0,432.9h3V448.4h-3Z M1040.0,448.4h3V465.2h-3Z M1048.0,457.6h3V463.5h-3Z M1052.0,448.4h3V459.3h-3Z M1056.0,433.8h3V448.4h-3Z M1060.0,411.2h3V434.6h-3Z M1064.0,390.3h3V412.0h-3Z M1072.0,420.4h3V428.8h-3Z M1084.0,426.3h3V434.6h-3Z M1092.0,442.6h3V447.6h-3Z M1096.0,440.9h3V446.7h-3Z M1100.0,438.4h3V440.9h-3Z M1104.0,422.9h3V440.5h-3Z M1112.0,371.0h3V440.5h-3Z M1116.0,366.8h3V371.8h-3Z M1136.0,406.2h3V445.5h-3Z M1144.0,396.1h3V414.5h-3Z M1148.0,393.6h3V397.0h-3Z M1160.0,374.4h3V410.3h-3Z M1164.0,357.6h3V376.0h-3Z M1168.0,355.1h3V359.3h-3Z M1172.0,352.6h3V355.9h-3Z M1180.0,307.1h3V359.3h-3Z M1184.0,266.1h3V307.9h-3Z M1196.0,270.2h3V272.8h-3Z M1200.0,233.4h3V270.2h-3Z M1204.0,231.7h3V233.4h-3Z M1216.0,239.3h3V256.0h-3Z M1220.0,223.4h3V240.1h-3Z M1236.0,301.2h3V317.1h-3Z M1244.0,296.2h3V314.6h-3Z M1248.0,290.3h3V297.0h-3Z M1256.0,305.4h3V317.9h-3Z M1264.0,296.2h3V313.8h-3Z M1284.0,407.8h3V414.4h-3Z M1288.0,413.6h3V418.6h-3Z M1292.0,404.4h3V413.6h-3Z M1296.0,392.7h3V405.2h-3Z M1300.0,387.7h3V393.5h-3Z M1312.0,368.4h3V391.0h-3Z M1324.0,376.8h3V383.5h-3Z M1336.0,420.3h3V430.3h-3Z M1340.0,407.8h3V421.1h-3Z M1344.0,392.7h3V408.6h-3Z M1348.0,379.3h3V393.5h-3Z M1368.0,411.1h3V420.3h-3Z M1376.0,406.9h3V446.3h-3Z M1400.0,455.9h3V470.9h-3Z M1404.0,440.4h3V455.5h-3Z M1408.0,434.5h3V442.1h-3Z M1424.0,455.5h3V463.4h-3Z M1452.0,631.2h3V637.0h-3Z M1456.0,626.1h3V632.0h-3Z M1460.0,617.8h3V627.0h-3Z M1468.0,600.2h3V644.6h-3Z" fill="#0b7d0b"/>
<path d="M16.0,134.5h3V137.8h-3Z M24.0,127.8h3V139.5h-3Z M28.0,138.7h3V181.7h-3Z M64.0,92.6h3V101.0h-3Z M72.0,76.7h3V85.1h-3Z M80.0,80.9h3V86.8h-3Z M88.0,85.1h3V88.5h-3Z M92.0,86.4h3V105.2h-3Z M100.0,104.4h3V133.7h-3Z M104.0,133.7h3V183.4h-3Z M108.0,183.4h3V226.1h-3Z M116.0,221.9h3V224.4h-3Z M120.0,223.6h3V242.8h-3Z M124.0,243.7h3V247.8h-3Z M128.0,246.2h3V257.9h-3Z M132.0,257.0h3V260.4h-3Z M136.0,257.0h3V272.9h-3Z M144.0,267.1h3V268.8h-3Z M156.0,259.6h3V268.8h-3Z M168.0,246.2h3V261.2h-3Z M172.0,260.9h3V263.7h-3Z M176.0,263.7h3V337.8h-3Z M180.0,337.0h3V360.4h-3Z M188.0,345.3h3V348.7h-3Z M192.0,347.0h3V367.1h-3Z M200.0,365.4h3V407.6h-3Z M204.0,407.6h3V417.7h-3Z M212.0,412.6h3V441.9h-3Z M220.0,424.4h3V443.6h-3Z M228.0,417.7h3V419.3h-3Z M236.0,411.8h3V419.3h-3Z M256.0,355.4h3V372.9h-3Z M260.0,372.1h3V377.1h-3Z M264.0,377.1h3V441.9h-3Z M268.0,441.1h3V456.2h-3Z M276.0,441.9h3V463.7h-3Z M280.0,463.7h3V474.6h-3Z M296.0,465.4h3V504.2h-3Z M300.0,503.4h3V521.8h-3Z M308.0,516.8h3V522.6h-3Z M316.0,490.5h3V499.2h-3Z M324.0,496.7h3V502.6h-3Z M328.0,504.2h3V515.1h-3Z M336.0,515.1h3V553.6h-3Z M340.0,552.8h3V554.4h-3Z M344.0,553.6h3V567.8h-3Z M364.0,534.4h3V539.4h-3Z M368.0,539.4h3V551.9h-3Z M372.0,551.1h3V555.3h-3Z M400.0,442.8h3V459.5h-3Z M404.0,460.3h3V468.7h-3Z M412.0,457.8h3V487.1h-3Z M440.0,361.0h3V427.9h-3Z M448.0,397.8h3V417.0h-3Z M456.0,396.1h3V410.3h-3Z M464.0,396.1h3V412.9h-3Z M468.0,412.0h3V417.0h-3Z M476.0,407.8h3V418.7h-3Z M488.0,400.3h3V438.0h-3Z M492.0,438.5h3V440.5h-3Z M496.0,439.6h3V442.2h-3Z M504.0,441.3h3V443.8h-3Z M516.0,426.3h3V433.8h-3Z M520.0,433.8h3V447.6h-3Z M524.0,448.4h3V462.6h-3Z M532.0,444.0h3V445.2h-3Z M536.0,444.2h3V466.0h-3Z M544.0,461.0h3V462.6h-3Z M552.0,455.9h3V471.8h-3Z M556.0,471.0h3V515.4h-3Z M576.0,449.3h3V460.1h-3Z M588.0,382.7h3V389.4h-3Z M592.0,389.4h3V400.3h-3Z M596.0,397.0h3V408.7h-3Z M600.0,407.8h3V417.9h-3Z M604.0,417.0h3V421.2h-3Z M608.0,420.4h3V455.9h-3Z M620.0,444.2h3V446.7h-3Z M624.0,445.9h3V462.6h-3Z M636.0,418.7h3V420.4h-3Z M640.0,427.1h3V434.6h-3Z M644.0,434.6h3V444.2h-3Z M648.0,444.2h3V479.4h-3Z M660.0,449.3h3V460.1h-3Z M668.0,461.0h3V468.5h-3Z M680.0,430.4h3V475.2h-3Z M684.0,475.2h3V493.6h-3Z M704.0,472.7h3V489.4h-3Z M716.0,456.8h3V460.1h-3Z M728.0,369.3h3V419.6h-3Z M736.0,407.8h3V416.2h-3Z M744.0,382.7h3V400.3h-3Z M748.0,399.5h3V432.9h-3Z M752.0,431.3h3V480.2h-3Z M756.0,478.5h3V521.2h-3Z M776.0,448.4h3V461.0h-3Z M780.0,460.1h3V469.3h-3Z M788.0,463.5h3V465.2h-3Z M796.0,445.9h3V453.4h-3Z M800.0,452.6h3V481.9h-3Z M812.0,456.8h3V476.9h-3Z M828.0,405.3h3V408.7h-3Z M836.0,390.3h3V395.3h-3Z M840.0,395.3h3V416.2h-3Z M844.0,416.2h3V443.4h-3Z M852.0,396.1h3V409.5h-3Z M868.0,391.1h3V415.4h-3Z M872.0,415.4h3V425.4h-3Z M876.0,424.6h3V434.6h-3Z M884.0,420.4h3V423.7h-3Z M888.0,422.9h3V432.1h-3Z M904.0,407.8h3V417.0h-3Z M916.0,403.7h3V415.4h-3Z M920.0,414.5h3V431.3h-3Z M924.0,427.9h3V432.1h-3Z M928.0,430.4h3V440.5h-3Z M936.0,434.6h3V465.2h-3Z M952.0,383.6h3V386.1h-3Z M956.0,385.2h3V410.3h-3Z M960.0,409.5h3V440.5h-3Z M976.0,415.4h3V417.9h-3Z M980.0,416.2h3V428.8h-3Z M996.0,336.7h3V357.6h-3Z M1000.0,357.6h3V370.2h-3Z M1004.0,369.3h3V395.3h-3Z M1012.0,378.5h3V384.4h-3Z M1016.0,379.4h3V461.0h-3Z M1028.0,432.9h3V437.1h-3Z M1032.0,434.6h3V445.5h-3Z M1036.0,438.8h3V465.2h-3Z M1044.0,448.4h3V457.6h-3Z M1068.0,389.4h3V427.1h-3Z M1076.0,420.4h3V431.3h-3Z M1080.0,430.4h3V434.6h-3Z M1088.0,425.4h3V446.7h-3Z M1108.0,422.9h3V440.5h-3Z M1120.0,371.8h3V380.2h-3Z M1124.0,379.4h3V398.6h-3Z M1128.0,398.6h3V408.7h-3Z M1132.0,408.7h3V445.5h-3Z M1140.0,406.2h3V407.8h-3Z M1152.0,393.6h3V401.1h-3Z M1156.0,401.1h3V410.3h-3Z M1176.0,350.9h3V359.3h-3Z M1188.0,266.9h3V271.9h-3Z M1208.0,231.7h3V245.1h-3Z M1212.0,245.1h3V255.2h-3Z M1224.0,223.4h3V249.3h-3Z M1228.0,249.3h3V274.4h-3Z M1232.0,273.6h3V317.1h-3Z M1240.0,304.6h3V313.8h-3Z M1252.0,291.2h3V317.9h-3Z M1260.0,305.4h3V312.9h-3Z M1268.0,296.2h3V322.1h-3Z M1272.0,322.1h3V326.3h-3Z M1276.0,324.6h3V345.9h-3Z M1280.0,345.9h3V414.4h-3Z M1304.0,387.7h3V389.3h-3Z M1308.0,387.7h3V391.0h-3Z M1316.0,367.6h3V381.0h-3Z M1320.0,380.1h3V383.5h-3Z M1328.0,376.8h3V409.4h-3Z M1332.0,407.8h3V429.5h-3Z M1352.0,379.3h3V386.0h-3Z M1356.0,385.2h3V388.5h-3Z M1360.0,393.5h3V396.9h-3Z M1364.0,396.0h3V420.3h-3Z M1372.0,410.3h3V447.1h-3Z M1380.0,406.1h3V411.1h-3Z M1384.0,412.8h3V420.3h-3Z M1388.0,420.3h3V428.7h-3Z M1392.0,429.5h3V456.3h-3Z M1396.0,455.5h3V470.9h-3Z M1412.0,434.5h3V436.2h-3Z M1416.0,435.4h3V457.1h-3Z M1420.0,457.1h3V463.8h-3Z M1428.0,455.5h3V512.8h-3Z M1432.0,512.8h3V523.7h-3Z M1436.0,522.8h3V537.0h-3Z M1440.0,538.7h3V566.7h-3Z M1444.0,565.0h3V623.6h-3Z M1448.0,623.6h3V636.2h-3Z M1464.0,618.3h3V644.6h-3Z M1472.0,600.2h3V622.0h-3Z M1476.0,622.0h3V633.3h-3Z" fill="#e61414"/>
<path d="M332.0,514.1h3V515.3h-3Z M1192.0,272.2h3V273.4h-3Z" fill="#111"/>
<rect x="13" y="575.4" width="1767" height="4.8" fill="#f64848"/>
<text x="1778.5" y="513.2" font-family="Liberation Sans, sans-serif" font-size="9.2" fill="#111" text-anchor="end" >61.8 - 1.12377</text>
<rect x="1718.6" y="531.2" width="61.4" height="10.6" fill="#fff"/>
<text x="1778.5" y="539.8" font-family="Liberation Sans, sans-serif" font-size="9.2" fill="#111" text-anchor="end" >50.0 - 1.12154</text>
<text x="1778.5" y="567.2" font-family="Liberation Sans, sans-serif" font-size="9.2" fill="#111" text-anchor="end" >38.2 - 1.11931</text>
<text x="1778.5" y="655.2" font-family="Liberation Sans, sans-serif" font-size="9.2" fill="#111" text-anchor="end" >0.0 -1.11207</text>
<text x="1676.4" y="254.6" font-family="Liberation Sans, sans-serif" font-size="9.2" fill="#1a1ad0" text-anchor="start" textLength="102" lengthAdjust="spacingAndGlyphs">D1 MA:100:0:0: 1.14502</text>
</g>
<text x="1779.3" y="400.2" font-family="Liberation Sans, sans-serif" font-size="9.4" fill="#2222d8" text-anchor="end" >13309</text>
<text x="1779.3" y="413.6" font-family="Liberation Sans, sans-serif" font-size="9.4" fill="#2f8f2f" text-anchor="end" >13193</text>
<rect x="1754.4" y="418.6" width="25.6" height="8.6" fill="#fff"/>
<text x="1779.3" y="425.8" font-family="Liberation Sans, sans-serif" font-size="9.4" fill="#222" text-anchor="end" >13101</text>
<path d="M16.1,42.1 h6.8 l-3.4,4.1 Z" fill="#000"/>
<text x="28.6" y="46.5" font-family="Liberation Sans, sans-serif" font-size="9.3" fill="#111" text-anchor="start" textLength="53.2" lengthAdjust="spacingAndGlyphs">EURUSD,H4</text>
<text x="88.3" y="46.5" font-family="Liberation Sans, sans-serif" font-size="9.3" fill="#111" text-anchor="start" textLength="139.8" lengthAdjust="spacingAndGlyphs">1.11507 1.11555 1.11405 1.11411</text>
<rect x="1532" y="333.6" width="220.2" height="145.6" rx="5" fill="#fff" stroke="#e4242a" stroke-width="2.4"/>
<text x="1553.9" y="356.3" font-family="Liberation Sans, sans-serif" font-size="13.6" font-weight="bold" fill="#111" stroke="#111" stroke-width="0.55" textLength="174.7" lengthAdjust="spacingAndGlyphs">The 2021 low, the 38.2%</text>
<text x="1552.0" y="374.4" font-family="Liberation Sans, sans-serif" font-size="13.6" font-weight="bold" fill="#111" stroke="#111" stroke-width="0.55" textLength="178.5" lengthAdjust="spacingAndGlyphs">and the 50% of the move</text>
<text x="1546.2" y="392.4" font-family="Liberation Sans, sans-serif" font-size="13.6" font-weight="bold" fill="#111" stroke="#111" stroke-width="0.55" textLength="190.1" lengthAdjust="spacingAndGlyphs">down from the Wednesday</text>
<text x="1563.5" y="410.5" font-family="Liberation Sans, sans-serif" font-size="13.6" font-weight="bold" fill="#111" stroke="#111" stroke-width="0.55" textLength="155.4" lengthAdjust="spacingAndGlyphs">high are the minimum</text>
<text x="1565.5" y="428.4" font-family="Liberation Sans, sans-serif" font-size="13.6" font-weight="bold" fill="#111" stroke="#111" stroke-width="0.55" textLength="151.5" lengthAdjust="spacingAndGlyphs">upside targets to get</text>
<text x="1549.3" y="446.4" font-family="Liberation Sans, sans-serif" font-size="13.6" font-weight="bold" fill="#111" stroke="#111" stroke-width="0.55" textLength="183.8" lengthAdjust="spacingAndGlyphs">above if the buyers are to</text>
<text x="1574.5" y="464.0" font-family="Liberation Sans, sans-serif" font-size="13.6" font-weight="bold" fill="#111" stroke="#111" stroke-width="0.55" textLength="133.4" lengthAdjust="spacingAndGlyphs">take more control.</text>
<path d="M1575.3,480.2L1483.4,568.1" stroke="#f84848" stroke-width="4.1" fill="none"/>
<path d="M1473.6,577.4L1479.6,561.2L1490.1,572.2Z" fill="#f84848"/>
<path d="M1656.8,480.2L1710.8,534.1" stroke="#f84848" stroke-width="4.1" fill="none"/>
<path d="M1720.4,543.6L1704.1,538.0L1714.8,527.3Z" fill="#f84848"/>
<path d="M1644.0,480.2L1709.0,561.8" stroke="#f84848" stroke-width="4.1" fill="none"/>
<path d="M1717.4,572.4L1701.8,565.0L1713.7,555.5Z" fill="#f84848"/>
<path d="M12.6,34.9H1780.5V673.4H12.6Z" fill="none" stroke="#000" stroke-width="1.2"/>
<path d="M12,34.8H1781" stroke="#6e6e6e" stroke-width="1.7" fill="none"/>
<path d="M1781,77.5h2.6" stroke="#000" stroke-width="1"/>
<text x="1786.8" y="80.2" font-family="Liberation Sans, sans-serif" font-size="9.2" fill="#111" text-anchor="start" textLength="32.2" lengthAdjust="spacingAndGlyphs">1.15995</text>
<path d="M1781,110.5h2.6" stroke="#000" stroke-width="1"/>
<text x="1786.8" y="113.2" font-family="Liberation Sans, sans-serif" font-size="9.2" fill="#111" text-anchor="start" textLength="32.2" lengthAdjust="spacingAndGlyphs">1.15725</text>
<path d="M1781,143.5h2.6" stroke="#000" stroke-width="1"/>
<text x="1786.8" y="146.2" font-family="Liberation Sans, sans-serif" font-size="9.2" fill="#111" text-anchor="start" textLength="32.2" lengthAdjust="spacingAndGlyphs">1.15450</text>
<path d="M1781,176.5h2.6" stroke="#000" stroke-width="1"/>
<text x="1786.8" y="179.2" font-family="Liberation Sans, sans-serif" font-size="9.2" fill="#111" text-anchor="start" textLength="32.2" lengthAdjust="spacingAndGlyphs">1.15180</text>
<path d="M1781,209.5h2.6" stroke="#000" stroke-width="1"/>
<text x="1786.8" y="212.2" font-family="Liberation Sans, sans-serif" font-size="9.2" fill="#111" text-anchor="start" textLength="32.2" lengthAdjust="spacingAndGlyphs">1.14905</text>
<path d="M1781,242.5h2.6" stroke="#000" stroke-width="1"/>
<text x="1786.8" y="245.2" font-family="Liberation Sans, sans-serif" font-size="9.2" fill="#111" text-anchor="start" textLength="32.2" lengthAdjust="spacingAndGlyphs">1.14635</text>
<path d="M1781,275.5h2.6" stroke="#000" stroke-width="1"/>
<text x="1786.8" y="278.2" font-family="Liberation Sans, sans-serif" font-size="9.2" fill="#111" text-anchor="start" textLength="32.2" lengthAdjust="spacingAndGlyphs">1.14365</text>
<path d="M1781,308.5h2.6" stroke="#000" stroke-width="1"/>
<text x="1786.8" y="311.2" font-family="Liberation Sans, sans-serif" font-size="9.2" fill="#111" text-anchor="start" textLength="32.2" lengthAdjust="spacingAndGlyphs">1.14090</text>
<path d="M1781,341.5h2.6" stroke="#000" stroke-width="1"/>
<text x="1786.8" y="344.2" font-family="Liberation Sans, sans-serif" font-size="9.2" fill="#111" text-anchor="start" textLength="32.2" lengthAdjust="spacingAndGlyphs">1.13820</text>
<path d="M1781,374.5h2.6" stroke="#000" stroke-width="1"/>
<text x="1786.8" y="377.2" font-family="Liberation Sans, sans-serif" font-size="9.2" fill="#111" text-anchor="start" textLength="32.2" lengthAdjust="spacingAndGlyphs">1.13545</text>
<path d="M1781,407.5h2.6" stroke="#000" stroke-width="1"/>
<text x="1786.8" y="410.2" font-family="Liberation Sans, sans-serif" font-size="9.2" fill="#111" text-anchor="start" textLength="32.2" lengthAdjust="spacingAndGlyphs">1.13275</text>
<path d="M1781,440.5h2.6" stroke="#000" stroke-width="1"/>
<text x="1786.8" y="443.2" font-family="Liberation Sans, sans-serif" font-size="9.2" fill="#111" text-anchor="start" textLength="32.2" lengthAdjust="spacingAndGlyphs">1.13005</text>
<path d="M1781,473.5h2.6" stroke="#000" stroke-width="1"/>
<text x="1786.8" y="476.2" font-family="Liberation Sans, sans-serif" font-size="9.2" fill="#111" text-anchor="start" textLength="32.2" lengthAdjust="spacingAndGlyphs">1.12730</text>
<path d="M1781,506.5h2.6" stroke="#000" stroke-width="1"/>
<text x="1786.8" y="509.2" font-family="Liberation Sans, sans-serif" font-size="9.2" fill="#111" text-anchor="start" textLength="32.2" lengthAdjust="spacingAndGlyphs">1.12460</text>
<path d="M1781,539.5h2.6" stroke="#000" stroke-width="1"/>
<text x="1786.8" y="542.2" font-family="Liberation Sans, sans-serif" font-size="9.2" fill="#111" text-anchor="start" textLength="32.2" lengthAdjust="spacingAndGlyphs">1.12190</text>
<path d="M1781,572.5h2.6" stroke="#000" stroke-width="1"/>
<text x="1786.8" y="575.2" font-family="Liberation Sans, sans-serif" font-size="9.2" fill="#111" text-anchor="start" textLength="32.2" lengthAdjust="spacingAndGlyphs">1.11915</text>
<path d="M1781,605.5h2.6" stroke="#000" stroke-width="1"/>
<text x="1786.8" y="608.2" font-family="Liberation Sans, sans-serif" font-size="9.2" fill="#111" text-anchor="start" textLength="32.2" lengthAdjust="spacingAndGlyphs">1.11645</text>
<path d="M1781,638.5h2.6" stroke="#000" stroke-width="1"/>
<text x="1786.8" y="641.2" font-family="Liberation Sans, sans-serif" font-size="9.2" fill="#111" text-anchor="start" textLength="32.2" lengthAdjust="spacingAndGlyphs">1.11370</text>
<path d="M1781,671.3h2.6" stroke="#000" stroke-width="1"/>
<text x="1786.8" y="674.0" font-family="Liberation Sans, sans-serif" font-size="9.2" fill="#111" text-anchor="start" textLength="32.2" lengthAdjust="spacingAndGlyphs">1.11100</text>
<rect x="1781.9" y="39.6" width="41.0" height="10.9" fill="#f20d0d"/>
<text x="1787.0" y="48.3" font-family="Liberation Sans, sans-serif" font-size="9.2" fill="#fff" text-anchor="start" textLength="31.6" lengthAdjust="spacingAndGlyphs">1.16252</text>
<rect x="1781.9" y="50.6" width="41.0" height="10.9" fill="#f20d0d"/>
<text x="1787.0" y="59.3" font-family="Liberation Sans, sans-serif" font-size="9.2" fill="#fff" text-anchor="start" textLength="31.6" lengthAdjust="spacingAndGlyphs">1.16165</text>
<rect x="1781.9" y="162.6" width="41.0" height="10.9" fill="#f20d0d"/>
<text x="1787.0" y="171.3" font-family="Liberation Sans, sans-serif" font-size="9.2" fill="#fff" text-anchor="start" textLength="31.6" lengthAdjust="spacingAndGlyphs">1.15237</text>
<rect x="1781.9" y="157.4" width="41.0" height="10.9" fill="#f20d0d"/>
<text x="1787.0" y="166.1" font-family="Liberation Sans, sans-serif" font-size="9.2" fill="#fff" text-anchor="start" textLength="31.6" lengthAdjust="spacingAndGlyphs">1.15282</text>
<rect x="1781.9" y="149.6" width="41.0" height="10.9" fill="#f20d0d"/>
<text x="1787.0" y="158.3" font-family="Liberation Sans, sans-serif" font-size="9.2" fill="#fff" text-anchor="start" textLength="31.6" lengthAdjust="spacingAndGlyphs">1.15346</text>
<rect x="1781.9" y="178.6" width="41.0" height="10.9" fill="#f20d0d"/>
<text x="1787.0" y="187.3" font-family="Liberation Sans, sans-serif" font-size="9.2" fill="#fff" text-anchor="start" textLength="31.6" lengthAdjust="spacingAndGlyphs">1.15107</text>
<rect x="1781.9" y="213.6" width="41.0" height="10.9" fill="#f20d0d"/>
<text x="1787.0" y="222.3" font-family="Liberation Sans, sans-serif" font-size="9.2" fill="#fff" text-anchor="start" textLength="31.6" lengthAdjust="spacingAndGlyphs">1.14820</text>
<rect x="1781.9" y="273.7" width="41.0" height="10.9" fill="#f20d0d"/>
<text x="1787.0" y="282.4" font-family="Liberation Sans, sans-serif" font-size="9.2" fill="#fff" text-anchor="start" textLength="31.6" lengthAdjust="spacingAndGlyphs">1.14323</text>
<rect x="1781.9" y="315.6" width="41.0" height="10.9" fill="#f20d0d"/>
<text x="1787.0" y="324.3" font-family="Liberation Sans, sans-serif" font-size="9.2" fill="#fff" text-anchor="start" textLength="31.6" lengthAdjust="spacingAndGlyphs">1.13973</text>
<rect x="1781.9" y="330.8" width="41.0" height="10.9" fill="#f20d0d"/>
<text x="1787.0" y="339.5" font-family="Liberation Sans, sans-serif" font-size="9.2" fill="#fff" text-anchor="start" textLength="31.6" lengthAdjust="spacingAndGlyphs">1.13857</text>
<rect x="1781.9" y="334.5" width="41.0" height="10.9" fill="#f20d0d"/>
<text x="1787.0" y="343.2" font-family="Liberation Sans, sans-serif" font-size="9.2" fill="#fff" text-anchor="start" textLength="31.6" lengthAdjust="spacingAndGlyphs">1.13821</text>
<rect x="1781.9" y="351.5" width="41.0" height="10.9" fill="#f20d0d"/>
<text x="1787.0" y="360.2" font-family="Liberation Sans, sans-serif" font-size="9.2" fill="#fff" text-anchor="start" textLength="31.6" lengthAdjust="spacingAndGlyphs">1.13682</text>
<rect x="1781.9" y="362.6" width="41.0" height="10.9" fill="#f20d0d"/>
<text x="1787.0" y="371.3" font-family="Liberation Sans, sans-serif" font-size="9.2" fill="#fff" text-anchor="start" textLength="31.6" lengthAdjust="spacingAndGlyphs">1.13590</text>
<rect x="1781.9" y="383.3" width="41.0" height="10.9" fill="#f20d0d"/>
<text x="1787.0" y="392.0" font-family="Liberation Sans, sans-serif" font-size="9.2" fill="#fff" text-anchor="start" textLength="31.6" lengthAdjust="spacingAndGlyphs">1.13418</text>
<rect x="1781.9" y="376.6" width="41.0" height="10.9" fill="#f20d0d"/>
<text x="1787.0" y="385.3" font-family="Liberation Sans, sans-serif" font-size="9.2" fill="#fff" text-anchor="start" textLength="31.6" lengthAdjust="spacingAndGlyphs">1.13470</text>
<rect x="1781.9" y="418.6" width="41.0" height="10.9" fill="#f20d0d"/>
<text x="1787.0" y="427.3" font-family="Liberation Sans, sans-serif" font-size="9.2" fill="#fff" text-anchor="start" textLength="31.6" lengthAdjust="spacingAndGlyphs">1.13126</text>
<rect x="1781.9" y="433.5" width="41.0" height="10.9" fill="#f20d0d"/>
<text x="1787.0" y="442.2" font-family="Liberation Sans, sans-serif" font-size="9.2" fill="#fff" text-anchor="start" textLength="31.6" lengthAdjust="spacingAndGlyphs">1.13002</text>
<rect x="1781.9" y="452.6" width="41.0" height="10.9" fill="#f20d0d"/>
<text x="1787.0" y="461.3" font-family="Liberation Sans, sans-serif" font-size="9.2" fill="#fff" text-anchor="start" textLength="31.6" lengthAdjust="spacingAndGlyphs">1.12854</text>
<rect x="1781.9" y="462.9" width="41.0" height="10.9" fill="#f20d0d"/>
<text x="1787.0" y="471.6" font-family="Liberation Sans, sans-serif" font-size="9.2" fill="#fff" text-anchor="start" textLength="31.6" lengthAdjust="spacingAndGlyphs">1.12763</text>
<rect x="1781.9" y="468.8" width="41.0" height="10.9" fill="#f20d0d"/>
<text x="1787.0" y="477.5" font-family="Liberation Sans, sans-serif" font-size="9.2" fill="#fff" text-anchor="start" textLength="31.6" lengthAdjust="spacingAndGlyphs">1.12712</text>
<rect x="1781.9" y="478.9" width="41.0" height="10.9" fill="#f20d0d"/>
<text x="1787.0" y="487.6" font-family="Liberation Sans, sans-serif" font-size="9.2" fill="#fff" text-anchor="start" textLength="31.6" lengthAdjust="spacingAndGlyphs">1.12636</text>
<rect x="1781.9" y="482.7" width="41.0" height="10.9" fill="#f20d0d"/>
<text x="1787.0" y="491.4" font-family="Liberation Sans, sans-serif" font-size="9.2" fill="#fff" text-anchor="start" textLength="31.6" lengthAdjust="spacingAndGlyphs">1.12601</text>
<rect x="1781.9" y="519.8" width="41.0" height="10.9" fill="#f20d0d"/>
<text x="1787.0" y="528.5" font-family="Liberation Sans, sans-serif" font-size="9.2" fill="#fff" text-anchor="start" textLength="31.6" lengthAdjust="spacingAndGlyphs">1.12297</text>
<rect x="1781.9" y="523.8" width="41.0" height="10.9" fill="#f20d0d"/>
<text x="1787.0" y="532.5" font-family="Liberation Sans, sans-serif" font-size="9.2" fill="#fff" text-anchor="start" textLength="31.6" lengthAdjust="spacingAndGlyphs">1.12264</text>
<rect x="1781.9" y="515.8" width="41.0" height="10.9" fill="#f20d0d"/>
<text x="1787.0" y="524.5" font-family="Liberation Sans, sans-serif" font-size="9.2" fill="#fff" text-anchor="start" textLength="31.6" lengthAdjust="spacingAndGlyphs">1.12331</text>
<rect x="1781.9" y="530.8" width="41.0" height="10.9" fill="#f20d0d"/>
<text x="1787.0" y="539.5" font-family="Liberation Sans, sans-serif" font-size="9.2" fill="#fff" text-anchor="start" textLength="31.6" lengthAdjust="spacingAndGlyphs">1.12208</text>
<rect x="1781.9" y="573.3" width="41.0" height="10.9" fill="#f20d0d"/>
<text x="1787.0" y="582.0" font-family="Liberation Sans, sans-serif" font-size="9.2" fill="#fff" text-anchor="start" textLength="31.6" lengthAdjust="spacingAndGlyphs">1.11853</text>
<rect x="1781.9" y="627.8" width="41.0" height="10.9" fill="#000"/>
<text x="1787.0" y="636.5" font-family="Liberation Sans, sans-serif" font-size="9.2" fill="#fff" text-anchor="start" textLength="31.6" lengthAdjust="spacingAndGlyphs">1.11411</text>
<path d="M13.5,674v3" stroke="#000" stroke-width="1"/>
<text x="12.6" y="686.6" font-family="Liberation Sans, sans-serif" font-size="9.3" fill="#111" text-anchor="start" textLength="47.7" lengthAdjust="spacingAndGlyphs">4 Nov 2021</text>
<path d="M77.5,674v3" stroke="#000" stroke-width="1"/>
<text x="76.6" y="686.6" font-family="Liberation Sans, sans-serif" font-size="9.3" fill="#111" text-anchor="start" textLength="51.0" lengthAdjust="spacingAndGlyphs">9 Nov 12:00</text>
<path d="M141.5,674v3" stroke="#000" stroke-width="1"/>
<text x="140.6" y="686.6" font-family="Liberation Sans, sans-serif" font-size="9.3" fill="#111" text-anchor="start" textLength="56.2" lengthAdjust="spacingAndGlyphs">12 Nov 04:00</text>
<path d="M205.5,674v3" stroke="#000" stroke-width="1"/>
<text x="204.6" y="686.6" font-family="Liberation Sans, sans-serif" font-size="9.3" fill="#111" text-anchor="start" textLength="56.2" lengthAdjust="spacingAndGlyphs">16 Nov 20:00</text>
<path d="M269.5,674v3" stroke="#000" stroke-width="1"/>
<text x="268.6" y="686.6" font-family="Liberation Sans, sans-serif" font-size="9.3" fill="#111" text-anchor="start" textLength="56.2" lengthAdjust="spacingAndGlyphs">19 Nov 12:00</text>
<path d="M333.5,674v3" stroke="#000" stroke-width="1"/>
<text x="332.6" y="686.6" font-family="Liberation Sans, sans-serif" font-size="9.3" fill="#111" text-anchor="start" textLength="56.2" lengthAdjust="spacingAndGlyphs">24 Nov 04:00</text>
<path d="M397.5,674v3" stroke="#000" stroke-width="1"/>
<text x="396.6" y="686.6" font-family="Liberation Sans, sans-serif" font-size="9.3" fill="#111" text-anchor="start" textLength="56.2" lengthAdjust="spacingAndGlyphs">26 Nov 20:00</text>
<path d="M461.5,674v3" stroke="#000" stroke-width="1"/>
<text x="460.6" y="686.6" font-family="Liberation Sans, sans-serif" font-size="9.3" fill="#111" text-anchor="start" textLength="50.7" lengthAdjust="spacingAndGlyphs">1 Dec 12:00</text>
<path d="M525.5,674v3" stroke="#000" stroke-width="1"/>
<text x="524.6" y="686.6" font-family="Liberation Sans, sans-serif" font-size="9.3" fill="#111" text-anchor="start" textLength="50.7" lengthAdjust="spacingAndGlyphs">6 Dec 04:00</text>
<path d="M589.5,674v3" stroke="#000" stroke-width="1"/>
<text x="588.6" y="686.6" font-family="Liberation Sans, sans-serif" font-size="9.3" fill="#111" text-anchor="start" textLength="50.7" lengthAdjust="spacingAndGlyphs">8 Dec 20:00</text>
<path d="M653.5,674v3" stroke="#000" stroke-width="1"/>
<text x="652.6" y="686.6" font-family="Liberation Sans, sans-serif" font-size="9.3" fill="#111" text-anchor="start" textLength="55.8" lengthAdjust="spacingAndGlyphs">13 Dec 12:00</text>
<path d="M717.5,674v3" stroke="#000" stroke-width="1"/>
<text x="716.6" y="686.6" font-family="Liberation Sans, sans-serif" font-size="9.3" fill="#111" text-anchor="start" textLength="55.8" lengthAdjust="spacingAndGlyphs">16 Dec 04:00</text>
<path d="M781.5,674v3" stroke="#000" stroke-width="1"/>
<text x="780.6" y="686.6" font-family="Liberation Sans, sans-serif" font-size="9.3" fill="#111" text-anchor="start" textLength="55.8" lengthAdjust="spacingAndGlyphs">20 Dec 20:00</text>
<path d="M845.5,674v3" stroke="#000" stroke-width="1"/>
<text x="844.6" y="686.6" font-family="Liberation Sans, sans-serif" font-size="9.3" fill="#111" text-anchor="start" textLength="55.8" lengthAdjust="spacingAndGlyphs">23 Dec 12:00</text>
<path d="M909.5,674v3" stroke="#000" stroke-width="1"/>
<text x="908.6" y="686.6" font-family="Liberation Sans, sans-serif" font-size="9.3" fill="#111" text-anchor="start" textLength="55.8" lengthAdjust="spacingAndGlyphs">28 Dec 04:00</text>
<path d="M973.5,674v3" stroke="#000" stroke-width="1"/>
<text x="972.6" y="686.6" font-family="Liberation Sans, sans-serif" font-size="9.3" fill="#111" text-anchor="start" textLength="55.8" lengthAdjust="spacingAndGlyphs">30 Dec 20:00</text>
<path d="M1037.5,674v3" stroke="#000" stroke-width="1"/>
<text x="1036.6" y="686.6" font-family="Liberation Sans, sans-serif" font-size="9.3" fill="#111" text-anchor="start" textLength="49.1" lengthAdjust="spacingAndGlyphs">4 Jan 12:00</text>
<path d="M1101.5,674v3" stroke="#000" stroke-width="1"/>
<text x="1100.6" y="686.6" font-family="Liberation Sans, sans-serif" font-size="9.3" fill="#111" text-anchor="start" textLength="49.1" lengthAdjust="spacingAndGlyphs">7 Jan 04:00</text>
<path d="M1165.5,674v3" stroke="#000" stroke-width="1"/>
<text x="1164.6" y="686.6" font-family="Liberation Sans, sans-serif" font-size="9.3" fill="#111" text-anchor="start" textLength="54.2" lengthAdjust="spacingAndGlyphs">11 Jan 20:00</text>
<path d="M1229.5,674v3" stroke="#000" stroke-width="1"/>
<text x="1228.6" y="686.6" font-family="Liberation Sans, sans-serif" font-size="9.3" fill="#111" text-anchor="start" textLength="54.2" lengthAdjust="spacingAndGlyphs">14 Jan 12:00</text>
<path d="M1293.5,674v3" stroke="#000" stroke-width="1"/>
<text x="1292.6" y="686.6" font-family="Liberation Sans, sans-serif" font-size="9.3" fill="#111" text-anchor="start" textLength="54.2" lengthAdjust="spacingAndGlyphs">19 Jan 04:00</text>
<path d="M1357.5,674v3" stroke="#000" stroke-width="1"/>
<text x="1356.6" y="686.6" font-family="Liberation Sans, sans-serif" font-size="9.3" fill="#111" text-anchor="start" textLength="54.2" lengthAdjust="spacingAndGlyphs">21 Jan 20:00</text>
<path d="M1421.5,674v3" stroke="#000" stroke-width="1"/>
<text x="1420.6" y="686.6" font-family="Liberation Sans, sans-serif" font-size="9.3" fill="#111" text-anchor="start" textLength="54.2" lengthAdjust="spacingAndGlyphs">26 Jan 12:00</text>
</svg>
</body></html>
